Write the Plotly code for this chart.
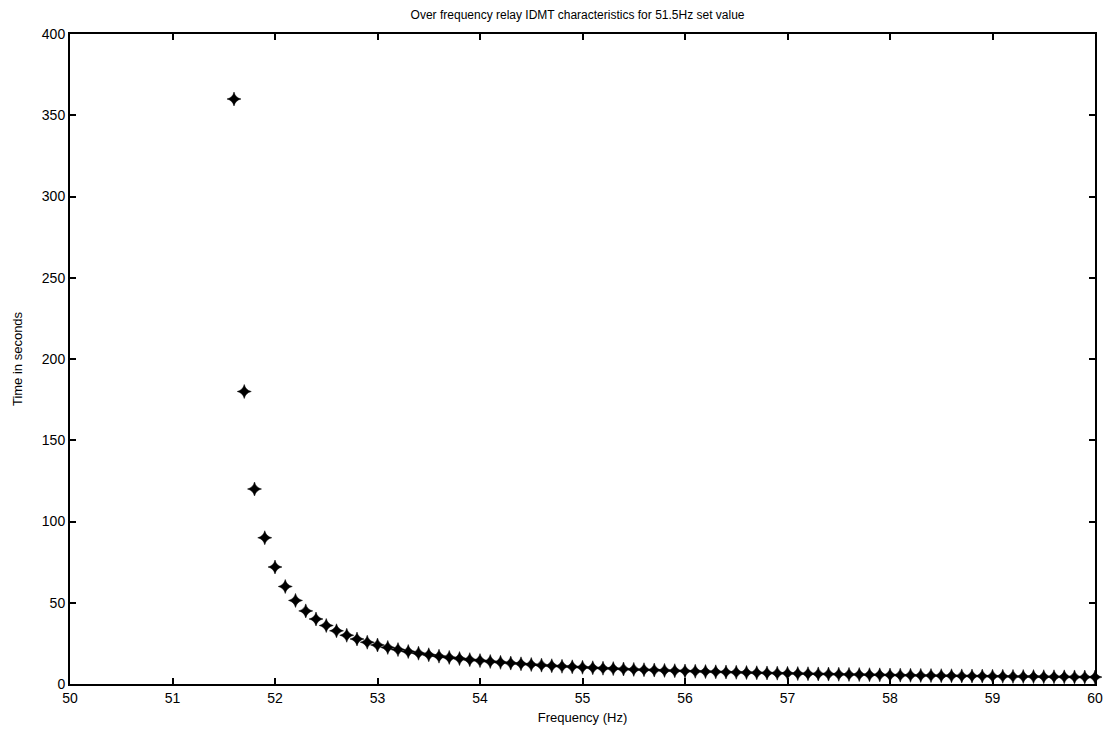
import plotly.graph_objects as go

frequency_hz = [
    51.6, 51.7, 51.8, 51.9, 52.0, 52.1, 52.2, 52.3, 52.4, 52.5,
    52.6, 52.7, 52.8, 52.9, 53.0, 53.1, 53.2, 53.3, 53.4, 53.5,
    53.6, 53.7, 53.8, 53.9, 54.0, 54.1, 54.2, 54.3, 54.4, 54.5,
    54.6, 54.7, 54.8, 54.9, 55.0, 55.1, 55.2, 55.3, 55.4, 55.5,
    55.6, 55.7, 55.8, 55.9, 56.0, 56.1, 56.2, 56.3, 56.4, 56.5,
    56.6, 56.7, 56.8, 56.9, 57.0, 57.1, 57.2, 57.3, 57.4, 57.5,
    57.6, 57.7, 57.8, 57.9, 58.0, 58.1, 58.2, 58.3, 58.4, 58.5,
    58.6, 58.7, 58.8, 58.9, 59.0, 59.1, 59.2, 59.3, 59.4, 59.5,
    59.6, 59.7, 59.8, 59.9, 60.0,
]

time_seconds = [
    360, 180, 120, 90, 72, 60, 51.43, 45, 40, 36,
    32.73, 30, 27.69, 25.71, 24, 22.5, 21.18, 20, 18.95, 18,
    17.14, 16.36, 15.65, 15, 14.4, 13.85, 13.33, 12.86, 12.41, 12,
    11.61, 11.25, 10.91, 10.59, 10.29, 10, 9.73, 9.47, 9.23, 9,
    8.78, 8.57, 8.37, 8.18, 8, 7.83, 7.66, 7.5, 7.35, 7.2,
    7.06, 6.92, 6.79, 6.67, 6.55, 6.43, 6.32, 6.21, 6.10, 6,
    5.90, 5.81, 5.71, 5.63, 5.54, 5.45, 5.37, 5.29, 5.22, 5.14,
    5.07, 5, 4.93, 4.86, 4.8, 4.74, 4.68, 4.62, 4.56, 4.5,
    4.44, 4.39, 4.34, 4.29, 4.24,
]

x_ticks = [50, 51, 52, 53, 54, 55, 56, 57, 58, 59, 60]
y_ticks = [0, 50, 100, 150, 200, 250, 300, 350, 400]

title_text = "Over frequency relay IDMT characteristics for 51.5Hz set value"
x_label = "Frequency (Hz)"
y_label = "Time in seconds"

font_family = "Liberation Sans, Arial, sans-serif"

fig = go.Figure()
fig.add_trace(go.Scatter(
    x=frequency_hz,
    y=time_seconds,
    mode="markers",
    marker=dict(symbol="star-diamond", size=10, color="black",
                line=dict(color="black", width=0.5)),
    cliponaxis=False,
    showlegend=False,
))

axis_common = dict(
    showgrid=False,
    zeroline=False,
    showline=True,
    linecolor="black",
    linewidth=2,
    mirror="ticks",
    ticks="inside",
    ticklen=6,
    tickwidth=1.5,
    tickcolor="black",
    tickfont=dict(family=font_family, size=14, color="black"),
)

fig.update_layout(
    width=1115,
    height=735,
    paper_bgcolor="white",
    plot_bgcolor="white",
    margin=dict(l=70, r=15, t=34, b=50),
    font=dict(family=font_family, color="black"),
    title=dict(text=title_text, x=0.518, xanchor="center", y=0.985, yanchor="top",
               font=dict(family=font_family, size=12, color="black")),
    xaxis=dict(range=[50, 60], tickvals=x_ticks,
               title=dict(text=x_label, font=dict(family=font_family, size=13), standoff=8),
               **axis_common),
    yaxis=dict(range=[0, 400], tickvals=y_ticks,
               title=dict(text=y_label, font=dict(family=font_family, size=13), standoff=16),
               **axis_common),
)

fig.write_html("out.html", config={"displayModeBar": False},
               post_script="document.body.style.margin='0';")
